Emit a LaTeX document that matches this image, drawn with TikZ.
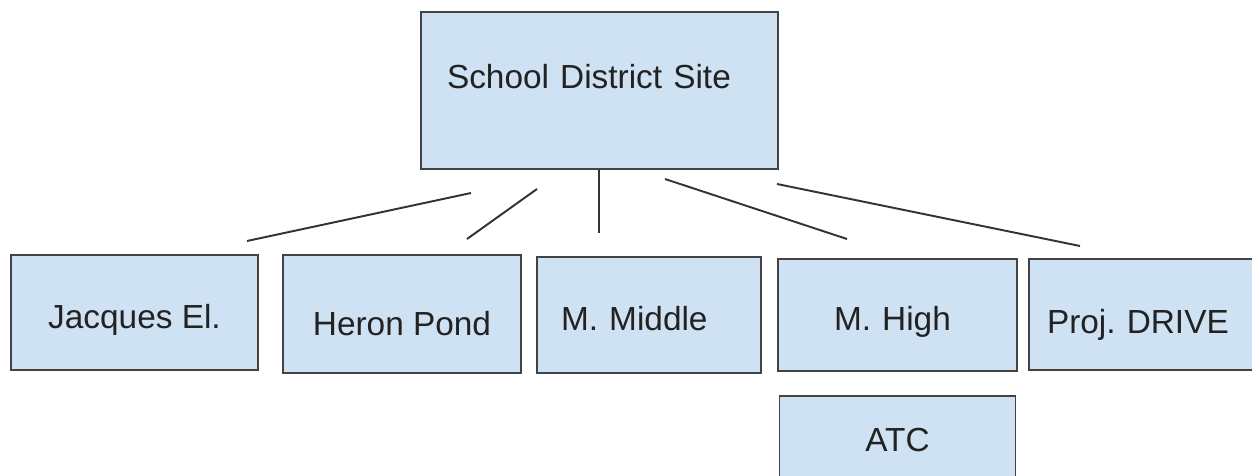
\documentclass[tikz,border=0pt]{standalone}
\usepackage{fontspec}
\setmainfont{Liberation Sans}
\usepackage{tikz}
\usetikzlibrary{positioning}
\definecolor{siteFill}{RGB}{207, 226, 243}
\definecolor{siteBorder}{RGB}{67, 67, 67}
\definecolor{linkColor}{RGB}{51, 51, 51}
\definecolor{labelColor}{RGB}{34, 34, 34}
\frenchspacing
\tikzset{
    site_box/.style={
        rectangle,
        draw=siteBorder,
        fill=siteFill,
        line width=1.1pt,
        font=\fontsize{19}{23}\selectfont\frenchspacing,
        text=labelColor,
        inner sep=0pt,
        text height=0.70cm,
        text depth=0.07cm
    },
    link_line/.style={
        draw=linkColor,
        line width=1.1pt
    }
}
\begin{document}
\begin{tikzpicture}[x=0.02cm, y=-0.02cm]
        \useasboundingbox (0,0) rectangle (1252,476);

        \node[site_box, minimum width=7.14cm, minimum height=3.14cm,
              text width=6.1cm, align=left, text height=0.55cm, text depth=0.61cm]
            (district) at (599.5,90.5) {School District Site};

        \node[site_box, minimum width=4.94cm, minimum height=2.3cm]
            (jacques) at (134.5,312.5) {Jacques El.};
        \node[site_box, minimum width=4.76cm, minimum height=2.36cm, text height=0.95cm]
            (heron) at (402,314) {Heron Pond};
        \node[site_box, minimum width=4.48cm, minimum height=2.32cm,
              text width=3.52cm, align=left]
            (middle) at (649,315) {M. Middle};
        \node[site_box, minimum width=4.78cm, minimum height=2.24cm,
              text width=2.54cm, align=left]
            (high) at (897.5,315) {M. High};
        \node[site_box, minimum width=4.62cm, minimum height=2.22cm,
              text width=3.9cm, align=left, text height=0.85cm]
            (drive) at (1144.5,314.5) {Proj. DRIVE};
        \node[site_box, minimum width=4.72cm, minimum height=2.24cm,
              text height=0.55cm, text depth=0.59cm, below=0.47cm of high]
            (atc) {ATC};

        % loose strokes under the district box, they do not touch the schools
        \coordinate (jacques_top) at (471,193);
        \coordinate (jacques_end) at (247,241);
        \coordinate (heron_top) at (537,189);
        \coordinate (heron_end) at (467,239);
        \coordinate (middle_end) at (599,233);
        \coordinate (high_top) at (665,179);
        \coordinate (high_end) at (847,239);
        \coordinate (drive_top) at (777,184);
        \coordinate (drive_end) at (1080,246);

        \draw[link_line] (jacques_top) -- (jacques_end);
        \draw[link_line] (heron_top) -- (heron_end);
        \draw[link_line] (district.south -| middle_end) -- (middle_end);
        \draw[link_line] (high_top) -- (high_end);
        \draw[link_line] (drive_top) -- (drive_end);
    \end{tikzpicture}
\end{document}
